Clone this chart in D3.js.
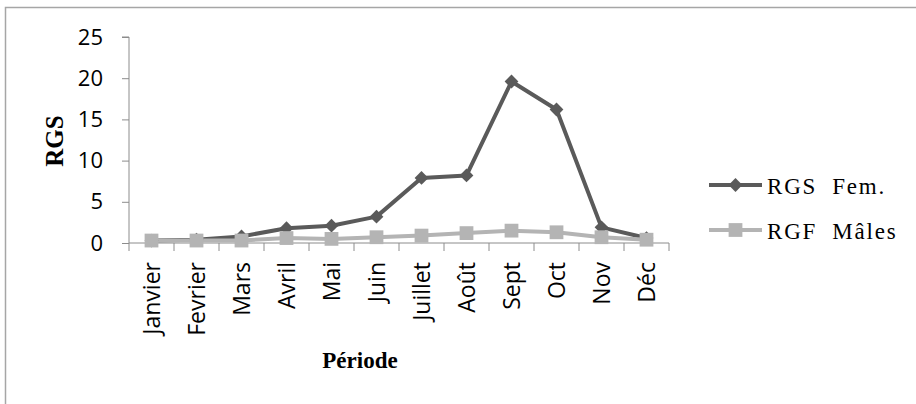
<!DOCTYPE html>
<html>
<head>
<meta charset="utf-8">
<script src="https://cdn.jsdelivr.net/npm/d3@7"></script>
<style>
  body { margin: 0; background: #fff; }
  svg { display: block; }
</style>
</head>
<body>
<svg width="916" height="404"></svg>
<script>
var months = ["Janvier", "Fevrier", "Mars", "Avril", "Mai", "Juin", "Juillet", "Août", "Sept", "Oct", "Nov", "Déc"];
var rgsFem = [0.3, 0.4, 0.8, 1.8, 2.1, 3.2, 7.9, 8.2, 19.6, 16.2, 1.9, 0.6];
var rgfMales = [0.3, 0.3, 0.3, 0.6, 0.5, 0.7, 0.9, 1.2, 1.5, 1.3, 0.7, 0.4];
var yTicks = [0, 5, 10, 15, 20, 25];

var svg = d3.select("svg"),
    margin = {top: 37, left: 129},
    width = 540,
    height = 206;

// outer chart frame (runs off the right/bottom of the picture)
svg.append("rect")
    .attr("x", 5.5).attr("y", 7.5)
    .attr("width", 1000).attr("height", 1000)
    .attr("fill", "none").attr("stroke", "#a6a6a6").attr("stroke-width", 1.5);

var x = d3.scaleBand().domain(months).range([0, width]),
    y = d3.scaleLinear().domain([0, 25]).range([height, 0]);

var g = svg.append("g")
    .attr("transform", "translate(" + margin.left + "," + margin.top + ")");

// y axis
var yAxis = g.append("g").call(d3.axisLeft(y).tickValues(yTicks).tickSize(7).tickPadding(19));
yAxis.select(".domain").attr("stroke", "#8c8c8c").attr("d", "M-7,0H0V" + height);
yAxis.selectAll(".tick line").attr("stroke", "#8c8c8c");
yAxis.selectAll(".tick text")
    .attr("font-family", "Open Sans").attr("font-size", 22).attr("fill", "#000");

// x axis, ticks between categories
var xAxis = g.append("g")
    .attr("transform", "translate(0," + height + ")")
    .call(d3.axisBottom(x).tickSize(0).tickPadding(0));
xAxis.select(".domain").attr("stroke", "#8c8c8c").attr("d", "M0,0H" + width);
xAxis.selectAll(".tick text")
    .attr("font-family", "Open Sans").attr("font-size", 23).attr("fill", "#000")
    .attr("transform", "rotate(-90)")
    .attr("text-anchor", "end")
    .attr("x", -19).attr("y", 0).attr("dy", "0.36em");
g.append("g").selectAll("line")
    .data(d3.range(months.length + 1))
    .enter().append("line")
      .attr("x1", function(i) { return i * x.bandwidth(); })
      .attr("x2", function(i) { return i * x.bandwidth(); })
      .attr("y1", height).attr("y2", height + 8)
      .attr("stroke", "#8c8c8c");

var cx = function(d, i) { return x(months[i]) + x.bandwidth() / 2; };
var line = d3.line().x(cx).y(function(d) { return y(d); });

var series = [
  {name: "RGS  Fem.", values: rgsFem, color: "#5a5a5a", marker: d3.symbolSquare, size: 95, rot: 45},
  {name: "RGF  Mâles", values: rgfMales, color: "#b4b4b4", marker: d3.symbolSquare, size: 190, rot: 0}
];

series.forEach(function(s) {
  g.append("path")
      .datum(s.values)
      .attr("fill", "none")
      .attr("stroke", s.color)
      .attr("stroke-width", 4)
      .attr("stroke-linejoin", "round")
      .attr("d", line);
});
series.forEach(function(s) {
  g.selectAll(null)
    .data(s.values)
    .enter().append("path")
      .attr("transform", function(d, i) {
        return "translate(" + cx(d, i) + "," + y(d) + ") rotate(" + s.rot + ")";
      })
      .attr("d", d3.symbol().type(s.marker).size(s.size))
      .attr("fill", s.color);
});

// axis titles
svg.append("text")
    .attr("transform", "translate(63,141) rotate(-90)")
    .attr("text-anchor", "middle")
    .attr("font-family", "Liberation Serif").attr("font-weight", "bold").attr("font-size", 25)
    .text("RGS");
svg.append("text")
    .attr("x", 360).attr("y", 368)
    .attr("text-anchor", "middle")
    .attr("font-family", "Liberation Serif").attr("font-weight", "bold").attr("font-size", 23)
    .text("Période");

// legend
var legend = svg.append("g").attr("transform", "translate(709,185)");
series.forEach(function(s, i) {
  var lg = legend.append("g").attr("transform", "translate(0," + i * 45 + ")");
  lg.append("line").attr("x1", 0).attr("x2", 53)
      .attr("stroke", s.color).attr("stroke-width", 4);
  lg.append("path").attr("transform", "translate(26.5,0) rotate(" + s.rot + ")")
      .attr("d", d3.symbol().type(s.marker).size(s.size))
      .attr("fill", s.color);
  lg.append("text").attr("x", 58).attr("y", 9)
      .attr("font-family", "Liberation Serif").attr("font-size", 23)
      .attr("letter-spacing", 1.8)
      .attr("xml:space", "preserve").style("white-space", "pre")
      .text(s.name);
});
</script>
</body>
</html>
